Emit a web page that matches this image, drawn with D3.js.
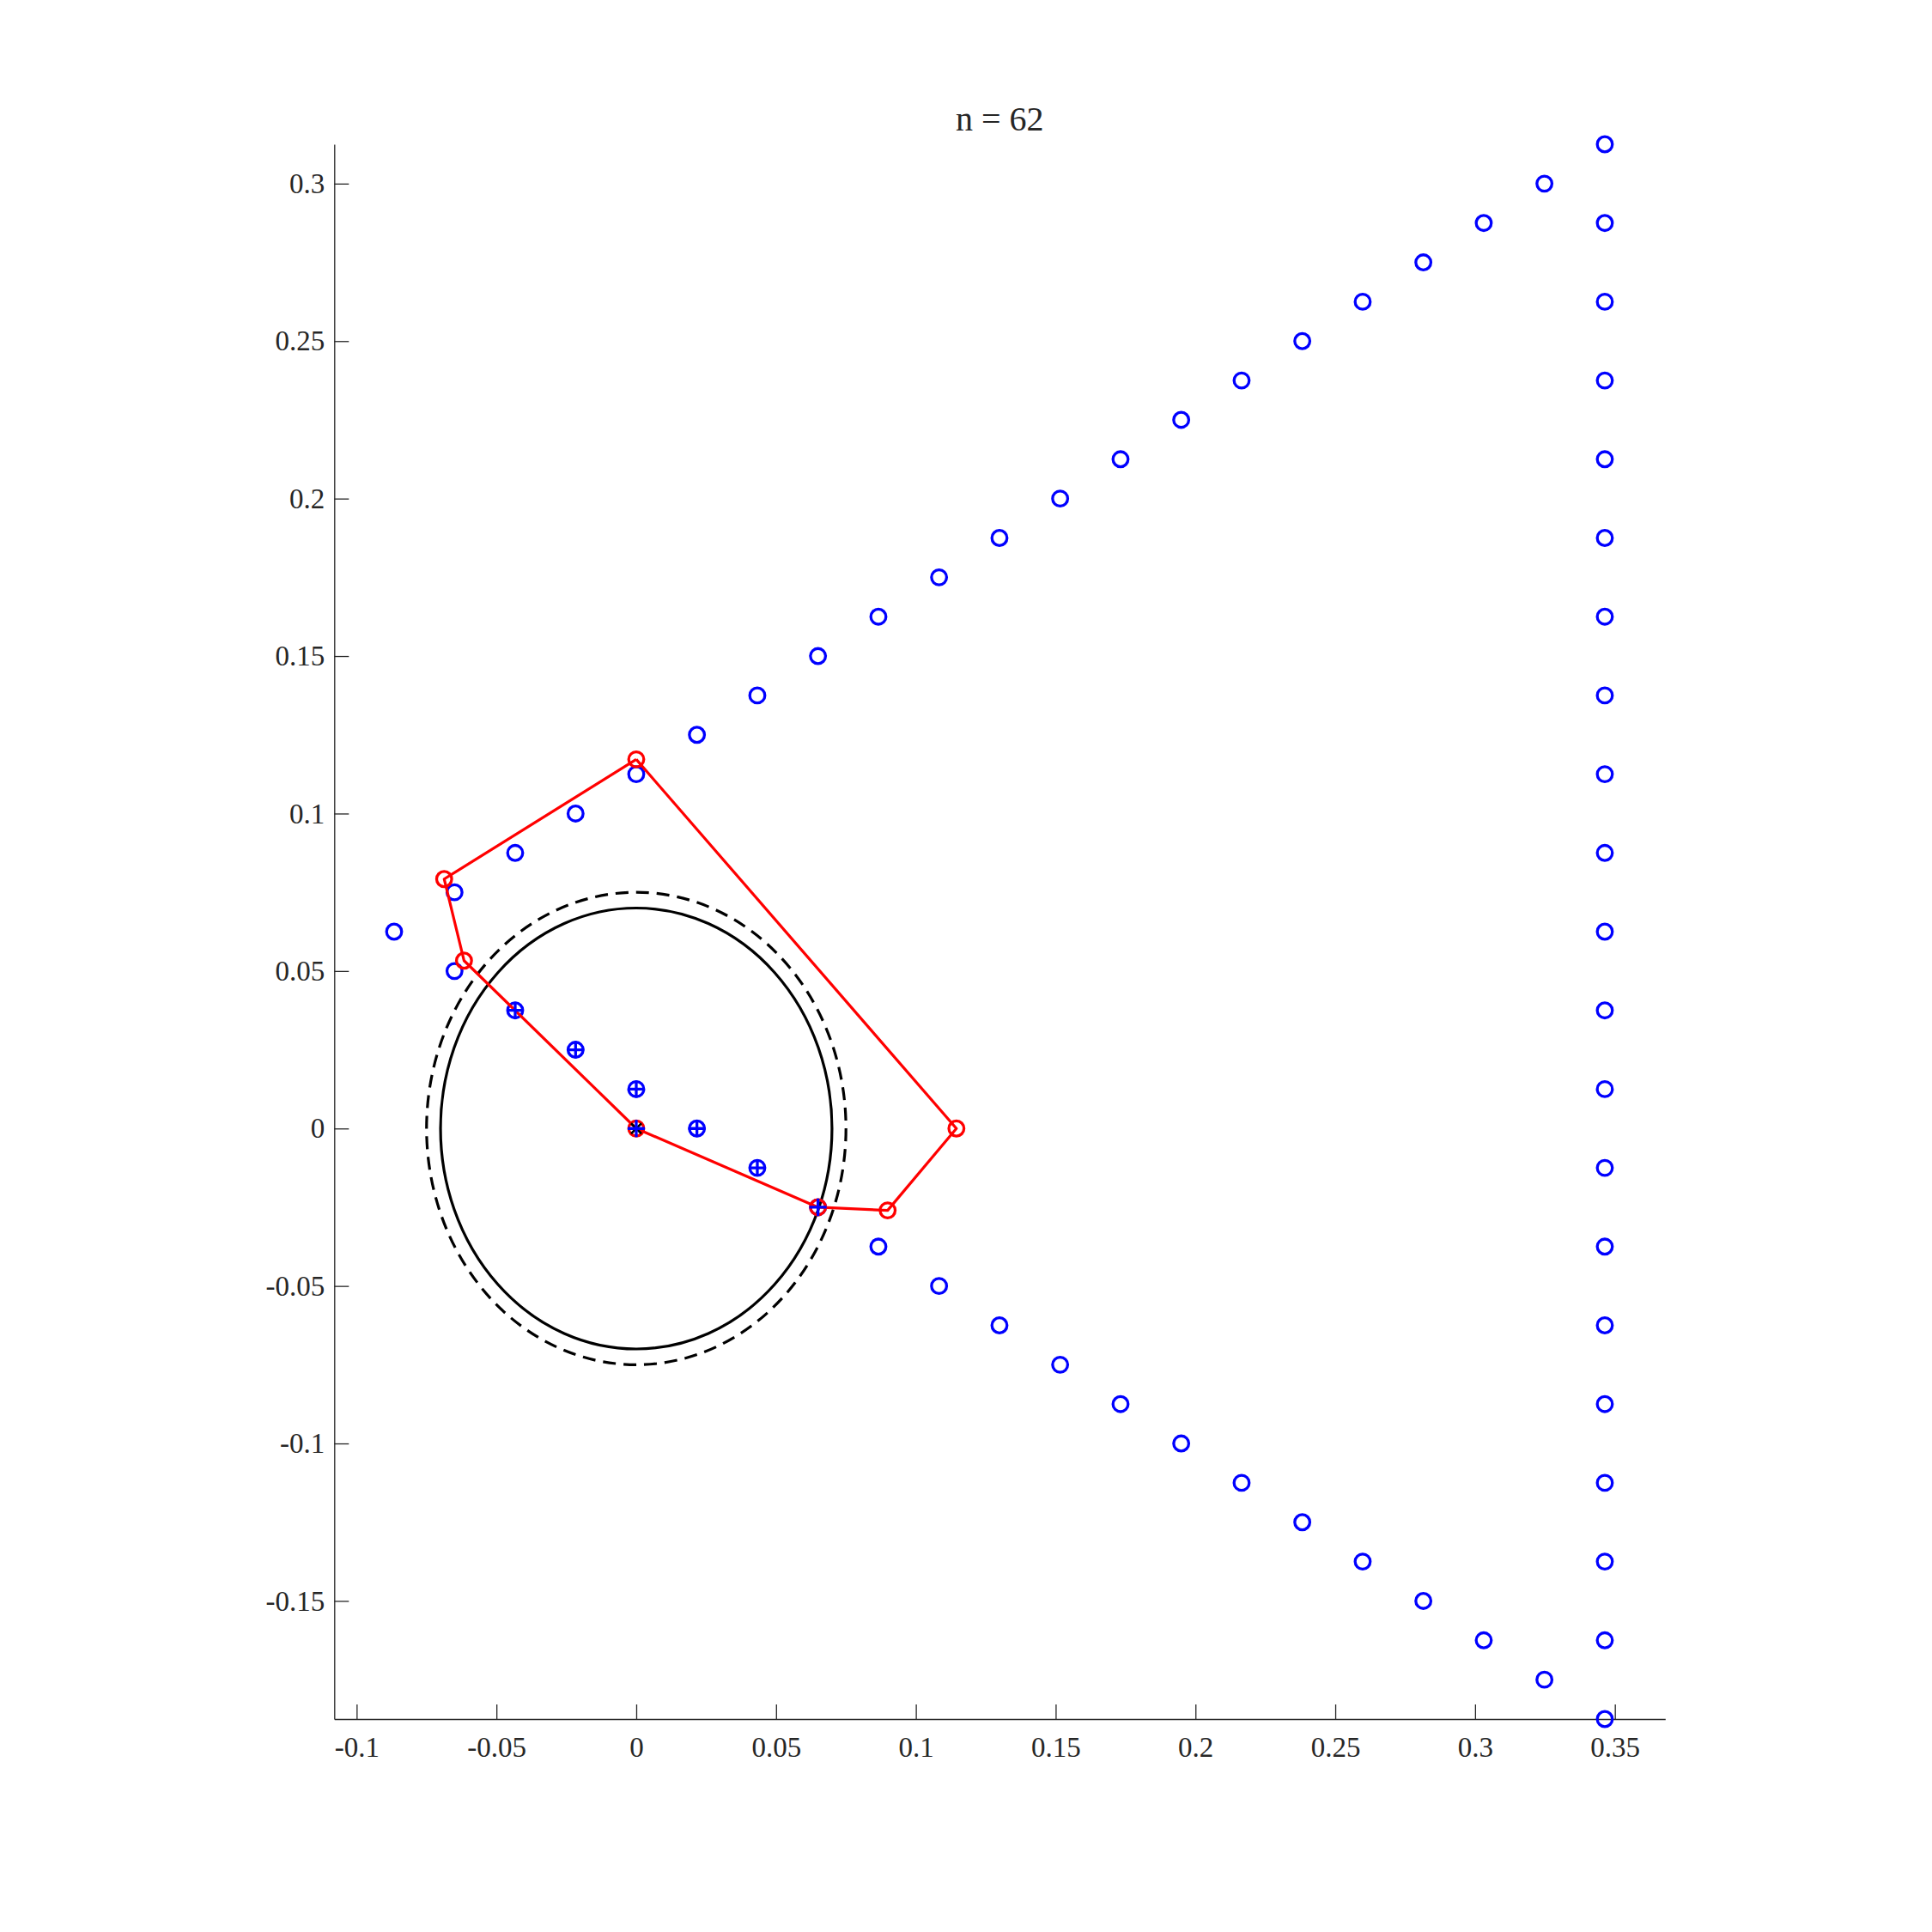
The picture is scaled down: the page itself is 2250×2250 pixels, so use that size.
<!DOCTYPE html>
<html>
<head>
<meta charset="utf-8">
<script src="https://cdn.jsdelivr.net/npm/d3@7"></script>
<style>
  html, body { margin: 0; padding: 0; background: #fff; }
  svg { display: block; }
  text { font-family: "Liberation Serif", "DejaVu Serif", serif; fill: #262626; }
</style>
</head>
<body>
<script>
// ---------- DATA ----------
const titleText = "n = 62";

// upper edge of the point set
const upperX = [-0.0866, -0.065, -0.0433, -0.0217, 0, 0.0217, 0.0433, 0.065, 0.0866, 0.1083, 0.1299, 0.1516, 0.1732, 0.1949, 0.2165, 0.2382, 0.2598, 0.2815, 0.3031, 0.3248, 0.3464];
const upperY = [0.0625, 0.075, 0.0875, 0.1, 0.1125, 0.125, 0.1375, 0.15, 0.1625, 0.175, 0.1875, 0.2, 0.2125, 0.225, 0.2375, 0.25, 0.2625, 0.275, 0.2875, 0.3, 0.3125];

// right column of the point set
const columnX = [0.3464, 0.3464, 0.3464, 0.3464, 0.3464, 0.3464, 0.3464, 0.3464, 0.3464, 0.3464, 0.3464, 0.3464, 0.3464, 0.3464, 0.3464, 0.3464, 0.3464, 0.3464, 0.3464, 0.3464];
const columnY = [0.2875, 0.2625, 0.2375, 0.2125, 0.1875, 0.1625, 0.1375, 0.1125, 0.0875, 0.0625, 0.0375, 0.0125, -0.0125, -0.0375, -0.0625, -0.0875, -0.1125, -0.1375, -0.1625, -0.1875];

// lower edge of the point set
const lowerX = [-0.065, -0.0433, -0.0217, 0, 0.0217, 0.0433, 0.065, 0.0866, 0.1083, 0.1299, 0.1516, 0.1732, 0.1949, 0.2165, 0.2382, 0.2598, 0.2815, 0.3031, 0.3248];
const lowerY = [0.05, 0.0375, 0.025, 0.0125, 0, -0.0125, -0.025, -0.0375, -0.05, -0.0625, -0.075, -0.0875, -0.1, -0.1125, -0.125, -0.1375, -0.15, -0.1625, -0.175];

// points inside the disc (plus markers)
const plusX = [-0.0433, -0.0217, 0, 0.0217, 0.0433, 0.065, 0];
const plusY = [0.0375, 0.025, 0.0125, 0, -0.0125, -0.025, 0];

// centre
const centreX = [0];
const centreY = [0];

// red polygon
const polyX = [0, -0.0687, -0.0616, 0, 0.065, 0.0899, 0.1145, 0];
const polyY = [0.1172, 0.0792, 0.0533, 0, -0.025, -0.026, 0, 0.1172];

// circles
const circleR = [0.07, 0.075];
const circleDash = ["none", "15,9"];

// ticks
const xTicks = [-0.1, -0.05, 0, 0.05, 0.1, 0.15, 0.2, 0.25, 0.3, 0.35];
const xTickLabels = ["-0.1", "-0.05", "0", "0.05", "0.1", "0.15", "0.2", "0.25", "0.3", "0.35"];
const yTicks = [-0.15, -0.1, -0.05, 0, 0.05, 0.1, 0.15, 0.2, 0.25, 0.3];
const yTickLabels = ["-0.15", "-0.1", "-0.05", "0", "0.05", "0.1", "0.15", "0.2", "0.25", "0.3"];

// ---------- LAYOUT ----------
const W = 2250, H = 2250;
const mLeft = 389.3, mRight = 1939.3, mTop = 168, mBottom = 2002;

const x = d3.scaleLinear().domain([-0.108, 0.368]).range([mLeft, mRight]);
const y = d3.scaleLinear().domain([-0.1875, 0.3125]).range([mBottom, mTop]);

const svg = d3.select("body").append("svg").attr("width", W).attr("height", H);

const axisColor = "#262626";
const tickFont = 33;

// axes
const xAxis = d3.axisBottom(x).tickValues(xTicks)
  .tickFormat((d, i) => xTickLabels[i]).tickSizeInner(-17).tickSizeOuter(0).tickPadding(21);
const gx = svg.append("g").attr("transform", `translate(0,${mBottom})`).call(xAxis);
gx.select(".domain").attr("stroke", axisColor).attr("stroke-width", 1.3);
gx.selectAll(".tick line").attr("stroke", axisColor).attr("stroke-width", 1.3);
gx.selectAll(".tick text").attr("font-size", tickFont).attr("fill", axisColor)
  .attr("font-family", "Liberation Serif, DejaVu Serif, serif");

const yAxis = d3.axisLeft(y).tickValues(yTicks)
  .tickFormat((d, i) => yTickLabels[i]).tickSizeInner(-17).tickSizeOuter(0).tickPadding(11);
const gy = svg.append("g").attr("transform", `translate(${mLeft},0)`).call(yAxis);
gy.select(".domain").attr("stroke", axisColor).attr("stroke-width", 1.3);
gy.selectAll(".tick line").attr("stroke", axisColor).attr("stroke-width", 1.3);
gy.selectAll(".tick text").attr("font-size", tickFont).attr("fill", axisColor)
  .attr("font-family", "Liberation Serif, DejaVu Serif, serif");

// title
svg.append("text")
  .attr("x", (mLeft + mRight) / 2).attr("y", 152)
  .attr("text-anchor", "middle").attr("font-size", 40)
  .text(titleText);

// circles (ellipses because axes are not equal)
svg.append("g").selectAll("ellipse").data(circleR).join("ellipse")
  .attr("cx", x(0)).attr("cy", y(0))
  .attr("rx", d => x(d) - x(0))
  .attr("ry", d => y(0) - y(d))
  .attr("fill", "none").attr("stroke", "#000").attr("stroke-width", 3.2)
  .attr("stroke-dasharray", (d, i) => circleDash[i]);

// blue circle points
const ptsX = upperX.concat(columnX, lowerX);
const ptsY = upperY.concat(columnY, lowerY);
const pts = ptsX.map((v, i) => [v, ptsY[i]]);
const mr = 8.8;
const mw = 3.3;
svg.append("g").selectAll("circle").data(pts).join("circle")
  .attr("cx", d => x(d[0])).attr("cy", d => y(d[1])).attr("r", mr)
  .attr("fill", "none").attr("stroke", "#0000ff").attr("stroke-width", mw);

// red polygon
const polyPts = polyX.map((v, i) => [v, polyY[i]]);
const line = d3.line().x(d => x(d[0])).y(d => y(d[1]));
svg.append("path").datum(polyPts).attr("d", line)
  .attr("fill", "none").attr("stroke", "#ff0000").attr("stroke-width", 3.2)
  .attr("stroke-linejoin", "round");
svg.append("g").selectAll("circle").data(polyPts.slice(0, -1)).join("circle")
  .attr("cx", d => x(d[0])).attr("cy", d => y(d[1])).attr("r", mr)
  .attr("fill", "none").attr("stroke", "#ff0000").attr("stroke-width", mw);

// black x at centre
const cpts = centreX.map((v, i) => [v, centreY[i]]);
const xs = 6;
svg.append("g").selectAll("path").data(cpts).join("path")
  .attr("d", d => {
    const cx = x(d[0]), cy = y(d[1]);
    return `M${cx - xs},${cy - xs}L${cx + xs},${cy + xs}M${cx - xs},${cy + xs}L${cx + xs},${cy - xs}`;
  })
  .attr("stroke", "#000").attr("stroke-width", 2.5).attr("fill", "none");

// blue plus markers
const ppts = plusX.map((v, i) => [v, plusY[i]]);
const ps = 10;
svg.append("g").selectAll("path").data(ppts).join("path")
  .attr("d", d => {
    const cx = x(d[0]), cy = y(d[1]);
    return `M${cx - ps},${cy}L${cx + ps},${cy}M${cx},${cy - ps}L${cx},${cy + ps}`;
  })
  .attr("stroke", "#0000ff").attr("stroke-width", mw).attr("fill", "none");
</script>
</body>
</html>
